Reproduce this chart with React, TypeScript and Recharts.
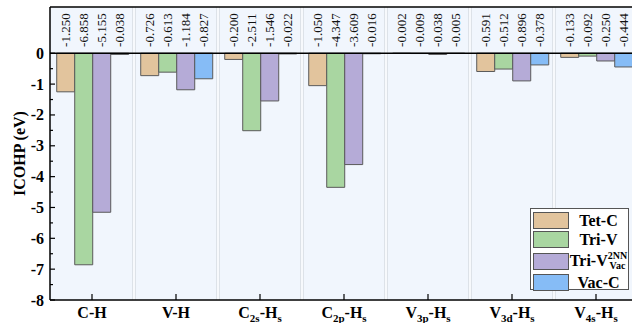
import { Bar, BarChart, CartesianGrid, LabelList, ReferenceLine, XAxis, YAxis } from "recharts";

const bondLabels = ["C-H", "V-H", "C_{2s}-H_{s}", "C_{2p}-H_{s}", "V_{3p}-H_{s}", "V_{3d}-H_{s}", "V_{4s}-H_{s}"];
const tetC = [-1.25, -0.726, -0.2, -1.05, -0.002, -0.591, -0.133];
const triV = [-6.858, -0.613, -2.511, -4.347, -0.009, -0.512, -0.092];
const triV2nn = [-5.155, -1.184, -1.546, -3.609, -0.038, -0.896, -0.25];
const vacC = [-0.038, -0.827, -0.022, -0.016, -0.005, -0.378, -0.444];
const yTicks = [0, -0.5, -1, -1.5, -2, -2.5, -3, -3.5, -4, -4.5, -5, -5.5, -6, -6.5, -7, -7.5, -8];

const series = [
  { key: "tetC", name: "Tet-C", color: "#e2c49d" },
  { key: "triV", name: "Tri-V", color: "#a9d6a1" },
  { key: "triV2nn", name: "Tri-V", sup: "2NN", sub: "Vac", color: "#b5abd7" },
  { key: "vacC", name: "Vac-C", color: "#86bcf6" }
];

const data = bondLabels.map((label, i) => ({
  pos: i + 1,
  label,
  tetC: tetC[i],
  triV: triV[i],
  triV2nn: triV2nn[i],
  vacC: vacC[i]
}));

const serif = '"Liberation Serif", "Times New Roman", serif';
const W = 640;
const H = 323;
const margin = { top: 7, right: 2, bottom: 0, left: 0 };
const X_AXIS_H = 23;
const Y_MIN = -8;
const Y_MAX = 1.5;
const plotH = H - margin.top - margin.bottom - X_AXIS_H;
const bandCenterY = margin.top + ((Y_MAX / 2) * plotH) / (Y_MAX - Y_MIN);

function splitSubs(label: string) {
  const parts: { text: string; sub: boolean }[] = [];
  const re = /_\{([^}]+)\}|([^_]+)/g;
  let m;
  while ((m = re.exec(label))) {
    if (m[1]) parts.push({ text: m[1], sub: true });
    else parts.push({ text: m[2], sub: false });
  }
  return parts;
}

function XTick(props: any) {
  const { x, y, payload } = props;
  const label = bondLabels[payload.value - 1] ?? "";
  let shift = 0;
  return (
    <g>
      <line x1={x} x2={x} y1={y} y2={y - 6} stroke="#000" strokeWidth={1.2} />
      <text x={x} y={y + 18} textAnchor="middle" fontFamily={serif} fontWeight="bold" fontSize={16} fill="#000">
        {splitSubs(label).map((p, i) => {
          const dy = p.sub ? 4 - shift : -shift;
          shift = p.sub ? 4 : 0;
          return (
            <tspan key={i} dy={dy} fontSize={p.sub ? 11 : 16}>
              {p.text}
            </tspan>
          );
        })}
      </text>
    </g>
  );
}

function YTick(props: any) {
  const { x, y, payload } = props;
  const v = payload.value;
  const major = Number.isInteger(v);
  return (
    <g>
      <line x1={x} x2={x + (major ? 5 : 3)} y1={y} y2={y} stroke="#000" strokeWidth={1.2} />
      {major && (
        <text x={x - 6} y={y} textAnchor="end" dominantBaseline="central" fontFamily={serif} fontWeight="bold" fontSize={16} fill="#000">
          {v}
        </text>
      )}
    </g>
  );
}

function ValueLabel(props: any) {
  const { x, width, value } = props;
  const cx = Number(x) + Number(width) / 2;
  return (
    <text
      x={cx}
      y={bandCenterY}
      transform={`rotate(-90 ${cx} ${bandCenterY})`}
      textAnchor="middle"
      dominantBaseline="central"
      fontFamily={serif}
      fontSize={13}
      fill="#111"
    >
      {Number(value).toFixed(3)}
    </text>
  );
}

function AxisTitle(props: any) {
  const { viewBox } = props;
  const cy = viewBox.y + viewBox.height / 2;
  return (
    <text x={19} y={cy} transform={`rotate(-90 19 ${cy})`} textAnchor="middle" dominantBaseline="central" fontFamily={serif} fontWeight="bold" fontSize={16} fill="#000">
      ICOHP (eV)
    </text>
  );
}

function LegendBox() {
  return (
    <div
      style={{
        position: "absolute",
        left: 530,
        top: 208,
        width: 99,
        height: 82,
        border: "1.5px solid #555",
        background: "#fff",
        fontFamily: serif,
        fontWeight: "bold",
        fontSize: 16,
        boxSizing: "border-box",
        padding: "2px 0 0 2px"
      }}
    >
      {series.map((s) => (
        <div key={s.key} style={{ display: "flex", alignItems: "center", height: s.sup ? 24 : 19 }}>
          <div style={{ width: 34, height: 15, background: s.color, border: "1px solid #555", flexShrink: 0 }} />
          <div style={{ flex: 1, textAlign: "center", whiteSpace: "nowrap", display: "flex", justifyContent: "center", alignItems: "center" }}>
            <span>{s.name}</span>
            {s.sup && (
              <span style={{ display: "inline-flex", flexDirection: "column", fontSize: 10, lineHeight: "10px" }}>
                <span>{s.sup}</span>
                <span>{s.sub}</span>
              </span>
            )}
          </div>
        </div>
      ))}
    </div>
  );
}

export default function App() {
  return (
    <div style={{ position: "absolute", left: 0, top: 0, width: 632, height: 323, overflow: "hidden", background: "#fff" }}>
      <BarChart width={W} height={H} data={data} margin={margin} barCategoryGap="8%" barGap={0}>
        <CartesianGrid horizontal={false} vertical={false} fill="#f1f6fd" stroke="none" />
        {bondLabels.map((_, i) => (
          <ReferenceLine key={"a" + i} x={i + 1.5} stroke="#dde2e8" strokeWidth={4} />
        ))}
        {bondLabels.map((_, i) => (
          <ReferenceLine key={"b" + i} x={i + 1.5} stroke="#f7f9fc" strokeWidth={2} />
        ))}
        <XAxis
          dataKey="pos"
          type="number"
          domain={[0.5, 7.5]}
          ticks={data.map((d) => d.pos)}
          interval={0}
          height={X_AXIS_H}
          tickSize={0}
          tickMargin={0}
          tickLine={false}
          tick={<XTick />}
          axisLine={{ stroke: "#000", strokeWidth: 1.5 }}
        />
        <YAxis
          type="number"
          domain={[Y_MIN, Y_MAX]}
          ticks={yTicks}
          interval={0}
          width={50}
          tickSize={0}
          tickMargin={0}
          tickLine={false}
          tick={<YTick />}
          axisLine={{ stroke: "#000", strokeWidth: 1.5 }}
          allowDataOverflow
          label={<AxisTitle />}
        />
        {series.map((s) => (
          <Bar key={s.key} dataKey={s.key} fill={s.color} stroke="#5a5a5a" strokeWidth={1} isAnimationActive={false}>
            <LabelList dataKey={s.key} content={<ValueLabel />} />
          </Bar>
        ))}
        <ReferenceLine y={0} stroke="#000" strokeWidth={1.5} />
        <ReferenceLine y={Y_MAX} stroke="#000" strokeWidth={1.5} />
      </BarChart>
      <LegendBox />
    </div>
  );
}
